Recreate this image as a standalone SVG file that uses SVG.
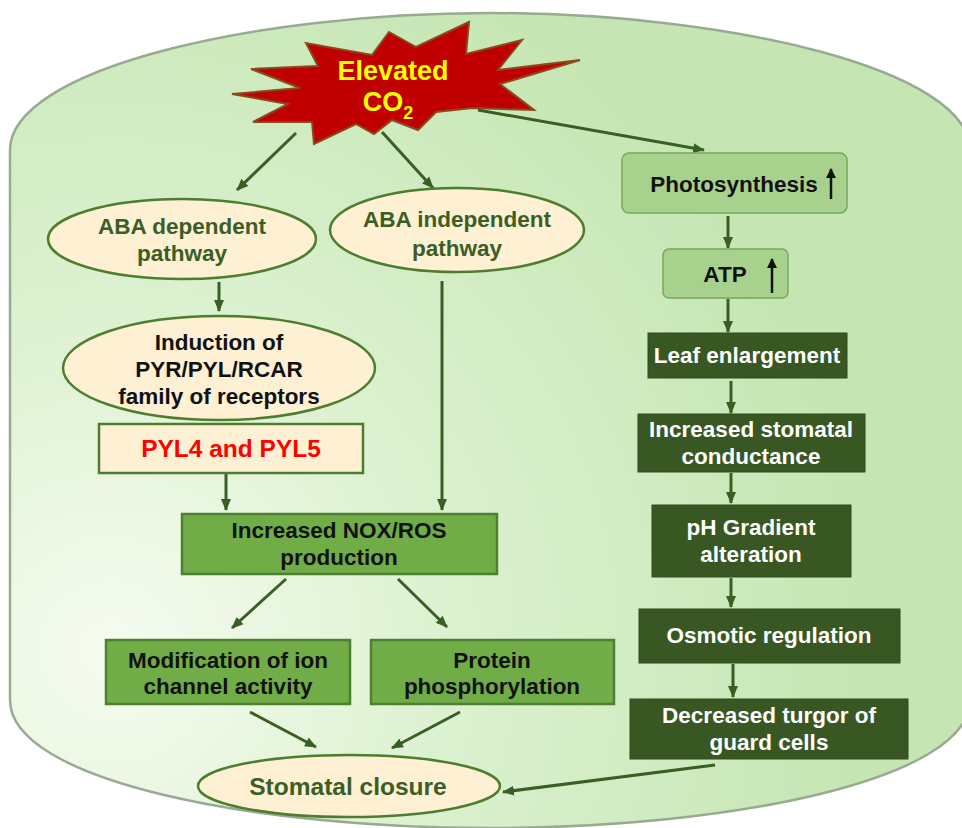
<svg xmlns="http://www.w3.org/2000/svg" width="962" height="828" viewBox="0 0 962 828">
<defs>
<radialGradient id="bg" gradientUnits="userSpaceOnUse" cx="110" cy="650" r="760">
<stop offset="0" stop-color="#f6fcf1"/>
<stop offset="0.45" stop-color="#dcf1d0"/>
<stop offset="1" stop-color="#c5e6b3"/>
</radialGradient>
<marker id="ah" markerUnits="userSpaceOnUse" markerWidth="12" markerHeight="12" viewBox="0 0 12 12" refX="11" refY="6" orient="auto">
<path d="M0,1 L12,6 L0,11 Z" fill="#3a5f24"/>
</marker>
<marker id="up" markerUnits="userSpaceOnUse" markerWidth="10" markerHeight="12" viewBox="0 0 10 12" refX="9" refY="5" orient="auto">
<path d="M0,0 L10,5 L0,10 Z" fill="#111"/>
</marker>
</defs>
<style>
text{font-family:"Liberation Sans",Arial,sans-serif;font-weight:bold;text-anchor:middle}
.ell{fill:#fdf0d3;stroke:#4f7d2f;stroke-width:2.5}
.gtxt{fill:#3b5e26;font-size:22.5px}
.btxt{fill:#111;font-size:22.5px}
.wtxt{fill:#fff;font-size:22.5px}
.mid{fill:#70ad47;stroke:#4f7f30;stroke-width:2.5}
.dark{fill:#385723;stroke:#2f4a1c;stroke-width:1}
.light{fill:#a9d18e;stroke:#7ba65c;stroke-width:1.5}
.con{stroke:#3a5f24;stroke-width:3;fill:none;marker-end:url(#ah)}
</style>
<g id="background">
<path d="M10,150 C10,70 250,13 490,13 C730,13 970,70 970,150 L970,700 C970,780 730,828 490,828 C250,828 10,780 10,700 Z" fill="url(#bg)" stroke="#98aa92" stroke-width="2.5"/>
</g>
<g id="co2">
<path d="M232,94 L288,104 L253,122 L312,122 L314,144 L356,124 L374,134 L392,120 L418,130 L436,112 L472,108 L534,110 L500,84 L580,60 L498,70 L522,40 L466,54 L469,22 L416,47 L389,32 L372,55 L306,43 L318,66 L251,69 L300,88 Z" fill="#c00000" stroke="#8a4a1c" stroke-width="2"/>
<text x="393" y="80" fill="#ffff00" font-size="27">Elevated</text>
<text x="388" y="111" fill="#ffff00" font-size="27">CO<tspan font-size="18" dy="8">2</tspan></text>
</g>
<g id="connectors">
<line class="con" x1="296" y1="133" x2="237" y2="190"/>
<line class="con" x1="382" y1="132" x2="433" y2="188"/>
<line class="con" x1="478" y1="110" x2="704" y2="150"/>
<line class="con" x1="219" y1="282" x2="219" y2="311"/>
<line class="con" x1="226" y1="473" x2="226" y2="510"/>
<line class="con" x1="442" y1="281" x2="442" y2="510"/>
<line class="con" x1="286" y1="579" x2="232" y2="628"/>
<line class="con" x1="398" y1="579" x2="447" y2="627"/>
<line class="con" x1="250" y1="712" x2="316" y2="747"/>
<line class="con" x1="460" y1="712" x2="392" y2="748"/>
<line class="con" x1="715" y1="765" x2="503" y2="792"/>
<line class="con" x1="728" y1="216" x2="728" y2="248"/>
<line class="con" x1="728" y1="299" x2="728" y2="332"/>
<line class="con" x1="731" y1="381" x2="731" y2="413"/>
<line class="con" x1="731" y1="473" x2="731" y2="503"/>
<line class="con" x1="731" y1="578" x2="731" y2="607"/>
<line class="con" x1="733" y1="664" x2="733" y2="697"/>
</g>
<g id="aba-dependent">
<ellipse class="ell" cx="182" cy="239" rx="134" ry="40"/>
<text class="gtxt" x="182" y="234">ABA dependent</text>
<text class="gtxt" x="182" y="261">pathway</text>
</g>
<g id="aba-independent">
<ellipse class="ell" cx="457" cy="230" rx="127" ry="42"/>
<text class="gtxt" x="457" y="227">ABA independent</text>
<text class="gtxt" x="457" y="256">pathway</text>
</g>
<g id="induction">
<ellipse class="ell" cx="219" cy="368" rx="156" ry="52"/>
<text class="btxt" x="219" y="350">Induction of</text>
<text class="btxt" x="219" y="377">PYR/PYL/RCAR</text>
<text class="btxt" x="219" y="404">family of receptors</text>
</g>
<g id="pyl">
<rect x="99" y="424" width="264" height="49" fill="#fdf0d3" stroke="#4f7d2f" stroke-width="2.5"/>
<text x="231" y="457" fill="#ff0000" font-size="24.5">PYL4 and PYL5</text>
</g>
<g id="nox">
<rect class="mid" x="182" y="514" width="315" height="60"/>
<text class="btxt" x="339" y="538">Increased NOX/ROS</text>
<text class="btxt" x="339" y="565">production</text>
</g>
<g id="ion">
<rect class="mid" x="106" y="640" width="244" height="64"/>
<text class="btxt" x="228" y="668">Modification of ion</text>
<text class="btxt" x="228" y="694">channel activity</text>
</g>
<g id="protein">
<rect class="mid" x="371" y="640" width="243" height="64"/>
<text class="btxt" x="492" y="668">Protein</text>
<text class="btxt" x="492" y="694">phosphorylation</text>
</g>
<g id="stomatal">
<ellipse class="ell" cx="349" cy="786" rx="151" ry="31"/>
<text class="gtxt" x="348" y="795" font-size="24.5" style="font-size:24.5px">Stomatal closure</text>
</g>
<g id="photosynthesis">
<rect class="light" x="622" y="153" width="225" height="60" rx="7"/>
<text class="btxt" x="734" y="192">Photosynthesis</text>
<line x1="831" y1="199" x2="831" y2="169" stroke="#111" stroke-width="2.5" marker-end="url(#up)"/>
</g>
<g id="atp">
<rect class="light" x="663" y="249" width="125" height="49" rx="6"/>
<text class="btxt" x="725" y="282">ATP</text>
<line x1="772" y1="293" x2="772" y2="259" stroke="#111" stroke-width="2.5" marker-end="url(#up)"/>
</g>
<g id="leaf">
<rect class="dark" x="648" y="333" width="199" height="45"/>
<text class="wtxt" x="747" y="363">Leaf enlargement</text>
</g>
<g id="conductance">
<rect class="dark" x="638" y="414" width="227" height="58"/>
<text class="wtxt" x="751" y="437">Increased stomatal</text>
<text class="wtxt" x="751" y="464">conductance</text>
</g>
<g id="ph">
<rect class="dark" x="652" y="505" width="199" height="72"/>
<text class="wtxt" x="751" y="535">pH Gradient</text>
<text class="wtxt" x="751" y="562">alteration</text>
</g>
<g id="osmotic">
<rect class="dark" x="639" y="609" width="261" height="54"/>
<text class="wtxt" x="769" y="643">Osmotic regulation</text>
</g>
<g id="turgor">
<rect class="dark" x="630" y="699" width="278" height="60"/>
<text class="wtxt" x="769" y="723">Decreased turgor of</text>
<text class="wtxt" x="769" y="750">guard cells</text>
</g>
</svg>
